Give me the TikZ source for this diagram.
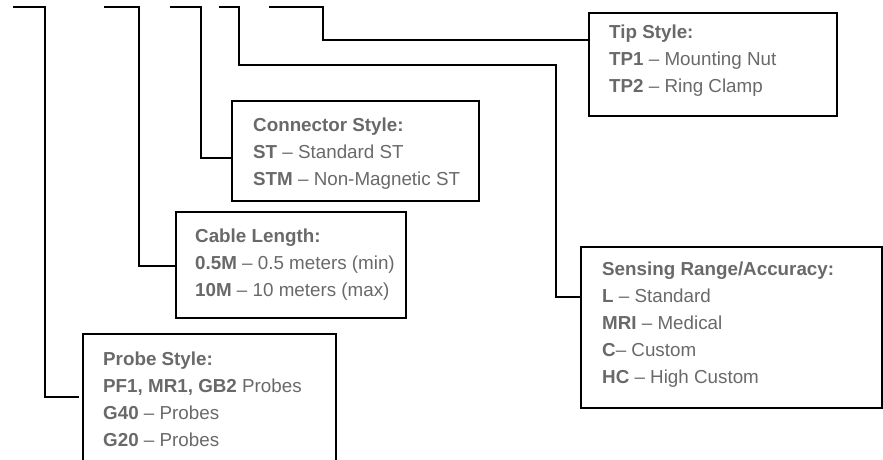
\documentclass[tikz,border=0pt]{standalone}
\usepackage{fontspec}
\setmainfont{Liberation Sans}
\definecolor{txtgray}{RGB}{105,105,105}
\begin{document}
\begin{tikzpicture}[x=1pt,y=-1pt,
  conn/.style={draw=black,line width=1.6pt},
  boxstyle/.style={draw=black,line width=1.6pt,fill=none,inner sep=0pt,anchor=north west},
  txt/.style={text=txtgray,align=left,inner sep=0pt,anchor=north west,
    font=\fontsize{18.8}{27}\selectfont}]
\useasboundingbox (0,0) rectangle (883,459);
\clip (0,0) rectangle (883,459);
% boxes
\node[boxstyle,minimum width=248pt,minimum height=103pt] (tip) at (588,12) {};
\node[boxstyle,minimum width=247pt,minimum height=100pt] (con) at (231,100) {};
\node[boxstyle,minimum width=230pt,minimum height=106pt] (cab) at (175,211) {};
\node[boxstyle,minimum width=301pt,minimum height=161pt] (sen) at (580,246) {};
\node[boxstyle,minimum width=253pt,minimum height=160pt] (pro) at (82,333) {};
% texts
\node[txt] (tiptxt) at (609,24.3) {\textbf{Tip Style:}\\\textbf{TP1} -- Mounting Nut\\\textbf{TP2} -- Ring Clamp};
\node[txt] (contxt) at (253,117.3) {\textbf{Connector Style:}\\\textbf{ST} -- Standard ST\\\textbf{STM} -- Non-Magnetic ST};
\node[txt] (cabtxt) at (195,228.3) {\textbf{Cable Length:}\\\textbf{0.5M} -- 0.5 meters (min)\\\textbf{10M} -- 10 meters (max)};
\node[txt] (sentxt) at (602,261.3) {\textbf{Sensing Range/Accuracy:}\\\textbf{L} -- Standard\\\textbf{MRI} -- Medical\\\textbf{C}-- Custom\\\textbf{HC} -- High Custom};
\node[txt] (protxt) at (103,351.3) {\textbf{Probe Style:}\\\textbf{PF1, MR1, GB2} Probes\\\textbf{G40} -- Probes\\\textbf{G20} -- Probes};
% connector start points
\coordinate (s1) at (13,7);
\coordinate (s2) at (104,7);
\coordinate (s3) at (170,7);
\coordinate (s4) at (219,7);
\coordinate (s5) at (269,7);
% connectors
\draw[conn] (s1) -| (45,397) -- (79,397);
\draw[conn] (s2) -| (139,266) -- (cab.west |- 0,266);
\draw[conn] (s3) -| (201,158) -- (con.west |- 0,158);
\draw[conn] (s4) -| (239,65) -| (556,297) -- (sen.west |- 0,297);
\draw[conn] (s5) -| (323,40) -- (tip.west |- 0,40);
\end{tikzpicture}
\end{document}
